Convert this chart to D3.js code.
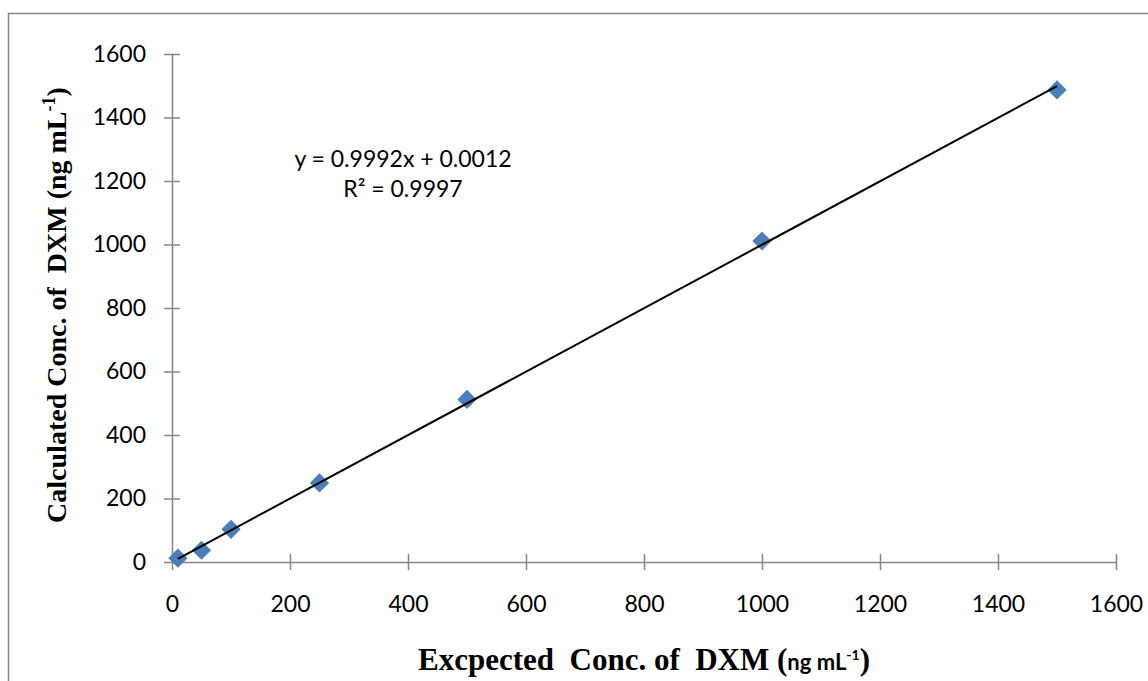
<!DOCTYPE html>
<html>
<head>
<meta charset="utf-8">
<script src="https://cdn.jsdelivr.net/npm/d3@7"></script>
<style>
  body { margin: 0; background: #fff; }
  svg { display: block; }
</style>
</head>
<body>
<script>
// Data
const expected = [10, 50, 100, 250, 500, 1000, 1500];
const calculated = [12, 37, 103, 249, 512, 1011, 1487];
const xTicks = [0, 200, 400, 600, 800, 1000, 1200, 1400, 1600];
const yTicks = [0, 200, 400, 600, 800, 1000, 1200, 1400, 1600];
const slope = 0.9992, intercept = 0.0012, r2 = 0.9997;

const width = 1148, height = 681;
const plot = { left: 172, right: 1116, top: 54, bottom: 562 };
const axisColor = "#868686";
const labelFont = "Lato, 'Open Sans', sans-serif";
const titleFont = "'Liberation Serif', 'Times New Roman', serif";

const svg = d3.select("body").append("svg")
    .attr("width", width)
    .attr("height", height);

// Chart area border
svg.append("rect")
    .attr("x", 8.5).attr("y", 13.5)
    .attr("width", 1300).attr("height", 900)
    .attr("fill", "none")
    .attr("stroke", axisColor)
    .attr("stroke-width", 1.5);

const x = d3.scaleLinear().domain([0, 1600]).range([plot.left, plot.right]);
const y = d3.scaleLinear().domain([0, 1600]).range([plot.bottom, plot.top]);

// Axes
const xAxis = svg.append("g")
    .attr("transform", `translate(0,${plot.bottom})`)
    .call(d3.axisBottom(x).tickValues(xTicks).tickFormat(d3.format("d"))
        .tickSizeInner(8).tickSizeOuter(0).tickPadding(26));

const yAxis = svg.append("g")
    .attr("transform", `translate(${plot.left},0)`)
    .call(d3.axisLeft(y).tickValues(yTicks).tickFormat(d3.format("d"))
        .tickSizeInner(8).tickSizeOuter(0).tickPadding(18));

// ticks cross the axis line on both sides
xAxis.selectAll(".tick line").attr("y1", -8).attr("y2", 8);
yAxis.selectAll(".tick line").attr("x1", -8).attr("x2", 8);

[xAxis, yAxis].forEach(g => {
    g.selectAll("path, line").attr("stroke", axisColor).attr("stroke-width", 1.5);
    g.selectAll("text")
        .attr("fill", "#000")
        .style("font-family", labelFont)
        .style("font-size", "23px");
});

// Diamond markers
const pts = expected.map((e, i) => ({ e, c: calculated[i] }));
svg.selectAll(".pt")
    .data(pts)
    .enter()
    .append("path")
    .attr("class", "pt")
    .attr("d", d3.symbol().type(d3.symbolSquare).size(185))
    .attr("transform", d => `translate(${x(d.e)},${y(d.c)}) rotate(45)`)
    .attr("fill", "#4A7EBB");

// Linear trendline over the data range, on top of the markers
const xMin = d3.min(expected), xMax = d3.max(expected);
svg.append("path")
    .datum([xMin, xMax])
    .attr("d", d3.line().x(d => x(d)).y(d => y(slope * d + intercept)))
    .attr("stroke", "#000")
    .attr("stroke-width", 2)
    .attr("fill", "none");

// Equation label
const eq = svg.append("text")
    .attr("text-anchor", "middle")
    .style("font-family", labelFont)
    .style("font-size", "23px")
    .attr("fill", "#000");
eq.append("tspan").attr("x", 403).attr("y", 167)
    .text(`y = ${slope}x + ${intercept.toFixed(4)}`);
eq.append("tspan").attr("x", 403).attr("y", 197)
    .text(`R² = ${r2}`);

// X axis title
const xt = svg.append("text")
    .attr("xml:space", "preserve")
    .attr("x", 644)
    .attr("y", 670)
    .attr("text-anchor", "middle")
    .attr("fill", "#000")
    .style("font-family", titleFont)
    .style("font-weight", "bold")
    .style("font-size", "31px");
xt.append("tspan").text("Excpected  Conc. of  DXM ");
xt.append("tspan").text("(");
xt.append("tspan").style("font-family", labelFont).style("font-size", "22px").text("ng mL");
xt.append("tspan").style("font-family", labelFont).style("font-size", "14px").attr("dy", -10).text("-1");
xt.append("tspan").attr("dy", 10).text(")");

// Y axis title
const yt = svg.append("text")
    .attr("xml:space", "preserve")
    .attr("transform", `translate(66,305) rotate(-90)`)
    .attr("text-anchor", "middle")
    .attr("fill", "#000")
    .style("font-family", titleFont)
    .style("font-weight", "bold")
    .style("font-size", "28px");
yt.append("tspan").text("Calculated Conc. of  DXM (ng mL");
yt.append("tspan").style("font-size", "18px").attr("dy", -11).text("-1");
yt.append("tspan").attr("dy", 11).text(")");
</script>
</body>
</html>
